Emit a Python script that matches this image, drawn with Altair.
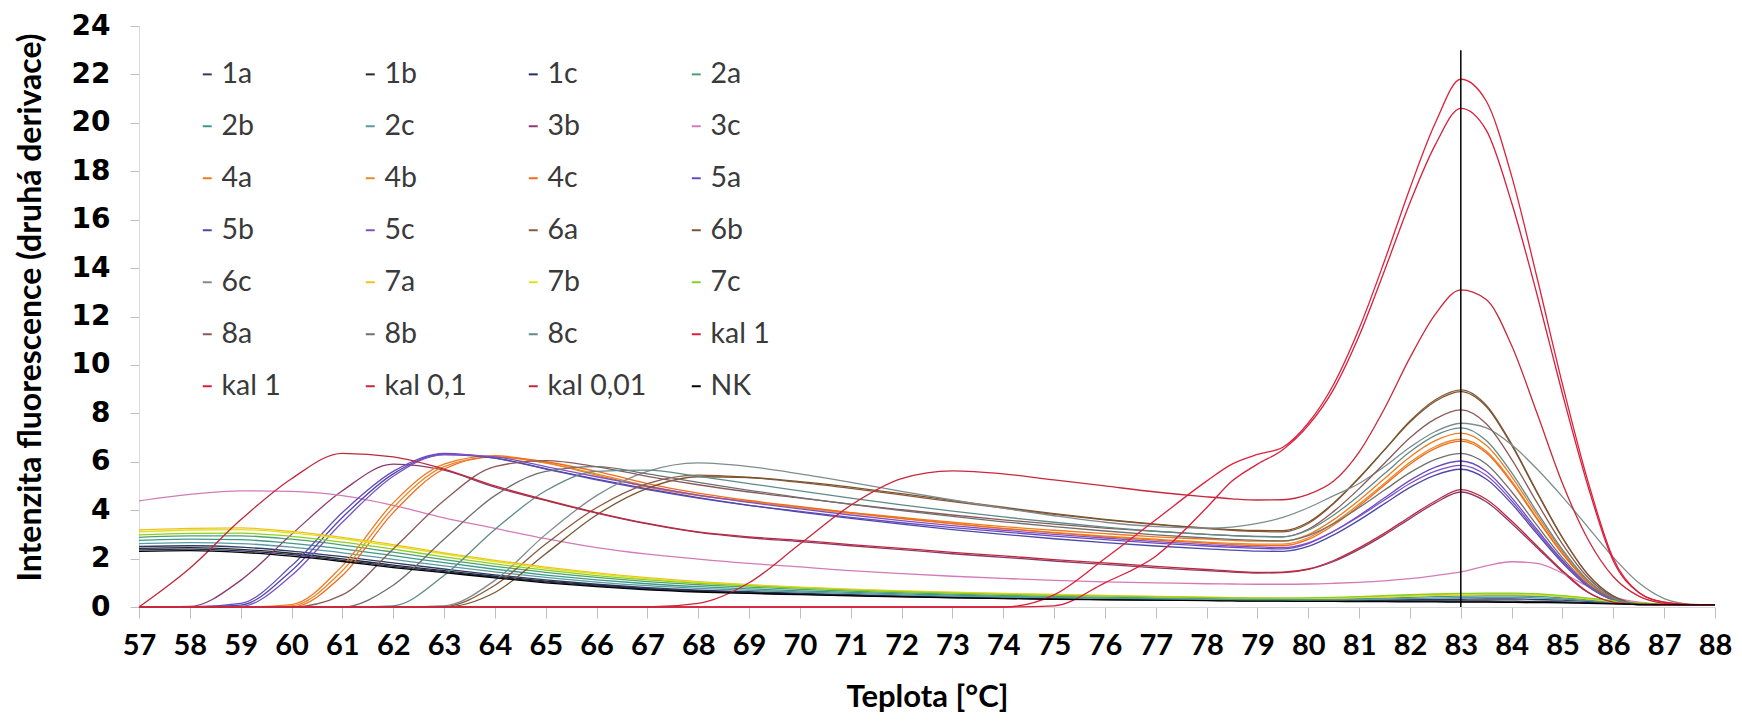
import altair as alt
import pandas as pd

# Temperature grid (°C): 1 °C steps up to 78, then 0.5 °C steps through the melt peak
TEMPS = [57, 58, 59, 60, 61, 62, 63, 64, 65, 66, 67, 68, 69, 70, 71, 72, 73, 74, 75, 76, 77, 78,
         78.5, 79, 79.5, 80, 80.5, 81, 81.5, 82, 82.5, 83, 83.5, 84, 84.5, 85, 85.5, 86, 86.5, 87, 87.5, 88]

# Second-derivative fluorescence per sample, one value per temperature above
s_1a = [2.5, 2.53, 2.47, 2.31, 2.08, 1.82, 1.57, 1.33, 1.12, 0.94, 0.8, 0.7, 0.63, 0.57, 0.51, 0.46, 0.42, 0.38, 0.35, 0.33, 0.31, 0.29,
        0.28, 0.27, 0.27, 0.27, 0.27, 0.28, 0.29, 0.3, 0.31, 0.32, 0.33, 0.33, 0.31, 0.28, 0.23, 0.17, 0.12, 0.1, 0.09, 0.09]
s_1b = [2.42, 2.45, 2.38, 2.22, 1.99, 1.73, 1.5, 1.27, 1.07, 0.9, 0.76, 0.66, 0.6, 0.54, 0.49, 0.44, 0.4, 0.37, 0.34, 0.32, 0.3, 0.28,
        0.27, 0.26, 0.26, 0.25, 0.25, 0.25, 0.25, 0.25, 0.25, 0.25, 0.25, 0.24, 0.23, 0.21, 0.18, 0.15, 0.12, 0.1, 0.09, 0.09]
s_1c = [2.36, 2.39, 2.32, 2.16, 1.93, 1.68, 1.46, 1.24, 1.04, 0.87, 0.74, 0.65, 0.58, 0.53, 0.48, 0.43, 0.39, 0.36, 0.33, 0.31, 0.29, 0.27,
        0.26, 0.25, 0.25, 0.24, 0.24, 0.24, 0.23, 0.23, 0.23, 0.22, 0.22, 0.21, 0.2, 0.19, 0.17, 0.14, 0.12, 0.1, 0.09, 0.09]
s_2a = [2.88, 2.94, 2.94, 2.8, 2.56, 2.27, 1.96, 1.68, 1.43, 1.22, 1.05, 0.92, 0.82, 0.73, 0.66, 0.59, 0.53, 0.48, 0.44, 0.41, 0.38, 0.36,
        0.35, 0.34, 0.34, 0.35, 0.37, 0.4, 0.44, 0.48, 0.51, 0.54, 0.55, 0.55, 0.52, 0.45, 0.35, 0.24, 0.16, 0.11, 0.1, 0.09]
s_2b = [2.75, 2.8, 2.78, 2.63, 2.4, 2.12, 1.83, 1.56, 1.32, 1.12, 0.96, 0.84, 0.75, 0.67, 0.6, 0.54, 0.49, 0.44, 0.4, 0.37, 0.34, 0.32,
        0.31, 0.3, 0.3, 0.31, 0.32, 0.34, 0.37, 0.4, 0.43, 0.45, 0.46, 0.46, 0.44, 0.38, 0.3, 0.21, 0.14, 0.1, 0.09, 0.09]
s_2c = [2.62, 2.66, 2.62, 2.47, 2.24, 1.97, 1.7, 1.45, 1.22, 1.03, 0.88, 0.77, 0.69, 0.62, 0.56, 0.5, 0.45, 0.41, 0.38, 0.35, 0.32, 0.3,
        0.29, 0.28, 0.28, 0.28, 0.29, 0.31, 0.33, 0.35, 0.37, 0.39, 0.4, 0.4, 0.38, 0.33, 0.26, 0.19, 0.13, 0.1, 0.09, 0.09]
s_3b = [0, 0.02, 1.1, 3.0, 4.8, 5.9, 5.65, 4.95, 4.4, 3.88, 3.43, 3.08, 2.86, 2.7, 2.53, 2.37, 2.2, 2.05, 1.9, 1.76, 1.62, 1.5,
        1.44, 1.4, 1.42, 1.55, 1.88, 2.38, 2.98, 3.65, 4.3, 4.75, 4.35, 3.45, 2.45, 1.45, 0.6, 0.2, 0.1, 0.08, 0.07, 0.07]
s_3c = [4.38, 4.65, 4.8, 4.78, 4.6, 4.2, 3.68, 3.25, 2.82, 2.45, 2.18, 1.98, 1.8, 1.66, 1.5, 1.38, 1.27, 1.18, 1.1, 1.04, 1.0, 0.96,
        0.95, 0.94, 0.94, 0.95, 0.98, 1.02, 1.08, 1.17, 1.3, 1.45, 1.7, 1.87, 1.8, 1.4, 0.85, 0.42, 0.2, 0.12, 0.1, 0.1]
s_4a = [0, 0, 0, 0.1, 1.7, 4.3, 5.9, 6.25, 5.95, 5.45, 4.95, 4.6, 4.35, 4.12, 3.9, 3.7, 3.5, 3.32, 3.17, 3.03, 2.9, 2.8,
        2.75, 2.72, 2.72, 2.99, 3.61, 4.41, 5.31, 6.2, 6.87, 7.18, 6.68, 5.39, 3.8, 2.3, 1.08, 0.36, 0.1, 0.08, 0.07, 0.07]
s_4b = [0, 0, 0, 0.05, 1.5, 4.1, 5.8, 6.2, 5.95, 5.5, 5.0, 4.62, 4.35, 4.1, 3.87, 3.65, 3.44, 3.25, 3.08, 2.93, 2.8, 2.68,
        2.63, 2.6, 2.6, 2.86, 3.47, 4.25, 5.11, 5.98, 6.63, 6.93, 6.44, 5.2, 3.67, 2.22, 1.04, 0.35, 0.1, 0.08, 0.07, 0.07]
s_4c = [0, 0, 0, 0, 1.3, 3.9, 5.7, 6.2, 6.0, 5.6, 5.1, 4.7, 4.4, 4.15, 3.9, 3.66, 3.44, 3.24, 3.06, 2.9, 2.76, 2.64,
        2.58, 2.54, 2.53, 2.79, 3.39, 4.17, 5.04, 5.9, 6.55, 6.85, 6.37, 5.14, 3.63, 2.19, 1.03, 0.34, 0.1, 0.08, 0.07, 0.07]
s_5a = [0, 0, 0.15, 1.7, 3.9, 5.6, 6.35, 6.15, 5.7, 5.25, 4.85, 4.5, 4.2, 3.95, 3.7, 3.48, 3.28, 3.1, 2.93, 2.78, 2.64, 2.52,
        2.46, 2.42, 2.4, 2.62, 3.13, 3.78, 4.51, 5.23, 5.78, 6.03, 5.61, 4.52, 3.2, 1.93, 0.9, 0.3, 0.1, 0.08, 0.07, 0.07]
s_5b = [0, 0, 0.08, 1.5, 3.7, 5.5, 6.3, 6.15, 5.72, 5.28, 4.88, 4.52, 4.2, 3.92, 3.66, 3.42, 3.2, 3.0, 2.82, 2.66, 2.52, 2.4,
        2.35, 2.31, 2.3, 2.5, 2.98, 3.59, 4.27, 4.94, 5.45, 5.69, 5.29, 4.27, 3.02, 1.82, 0.85, 0.28, 0.09, 0.08, 0.07, 0.07]
s_5c = [0, 0, 0.02, 1.3, 3.5, 5.4, 6.3, 6.2, 5.8, 5.38, 4.98, 4.62, 4.32, 4.05, 3.8, 3.57, 3.36, 3.17, 3.0, 2.85, 2.7, 2.58,
        2.52, 2.48, 2.45, 2.65, 3.13, 3.74, 4.42, 5.1, 5.61, 5.85, 5.44, 4.39, 3.1, 1.87, 0.88, 0.29, 0.09, 0.08, 0.07, 0.07]
s_6a = [0, 0, 0, 0, 0, 0, 0.02, 0.9, 2.6, 4.1, 5.1, 5.45, 5.35, 5.15, 4.9, 4.63, 4.35, 4.08, 3.83, 3.6, 3.4, 3.24,
        3.17, 3.12, 3.1, 3.45, 4.27, 5.33, 6.5, 7.68, 8.56, 8.97, 8.34, 6.73, 4.75, 2.87, 1.35, 0.45, 0.13, 0.08, 0.07, 0.07]
s_6b = [0, 0, 0, 0, 0, 0, 0, 0.6, 2.2, 3.8, 4.9, 5.38, 5.35, 5.18, 4.95, 4.68, 4.4, 4.12, 3.86, 3.62, 3.42, 3.26,
        3.2, 3.16, 3.15, 3.5, 4.3, 5.34, 6.49, 7.64, 8.5, 8.9, 8.28, 6.68, 4.72, 2.85, 1.34, 0.45, 0.13, 0.08, 0.07, 0.07]
s_6c = [0, 0, 0, 0, 0, 0, 0.05, 1.1, 3.0, 4.6, 5.6, 5.95, 5.8, 5.5, 5.15, 4.78, 4.42, 4.08, 3.77, 3.5, 3.32, 3.26,
        3.3, 3.45, 3.7, 4.1, 4.6, 5.1, 5.8, 6.6, 7.25, 7.59, 7.4, 6.7, 5.7, 4.55, 3.3, 2.05, 1.0, 0.35, 0.12, 0.08]
s_7a = [3.18, 3.25, 3.27, 3.12, 2.88, 2.58, 2.24, 1.93, 1.65, 1.41, 1.21, 1.05, 0.92, 0.82, 0.74, 0.67, 0.61, 0.56, 0.52, 0.48, 0.44, 0.41,
        0.39, 0.38, 0.37, 0.37, 0.38, 0.4, 0.42, 0.45, 0.48, 0.5, 0.52, 0.52, 0.5, 0.43, 0.33, 0.23, 0.15, 0.11, 0.1, 0.09]
s_7b = [3.1, 3.18, 3.2, 3.06, 2.82, 2.52, 2.19, 1.88, 1.6, 1.37, 1.17, 1.02, 0.9, 0.8, 0.72, 0.65, 0.59, 0.54, 0.5, 0.46, 0.43, 0.4,
        0.38, 0.37, 0.36, 0.36, 0.37, 0.39, 0.42, 0.45, 0.49, 0.52, 0.54, 0.54, 0.51, 0.44, 0.34, 0.24, 0.16, 0.11, 0.1, 0.09]
s_7c = [2.98, 3.04, 3.05, 2.92, 2.68, 2.39, 2.07, 1.78, 1.52, 1.3, 1.12, 0.98, 0.87, 0.78, 0.7, 0.63, 0.57, 0.52, 0.48, 0.45, 0.42, 0.39,
        0.38, 0.37, 0.37, 0.38, 0.4, 0.43, 0.47, 0.51, 0.54, 0.56, 0.57, 0.57, 0.54, 0.47, 0.37, 0.26, 0.17, 0.12, 0.1, 0.09]
s_8a = [0, 0, 0, 0, 0.5, 2.4, 4.4, 5.8, 6.05, 5.8, 5.4, 5.05, 4.75, 4.5, 4.25, 4.02, 3.8, 3.6, 3.42, 3.26, 3.12, 3.0,
        2.95, 2.92, 2.9, 3.21, 3.95, 4.89, 5.94, 6.99, 7.77, 8.14, 7.57, 6.1, 4.31, 2.6, 1.22, 0.41, 0.12, 0.08, 0.07, 0.07]
s_8b = [0, 0, 0, 0, 0, 0.9, 2.8, 4.6, 5.6, 5.8, 5.5, 5.15, 4.82, 4.52, 4.24, 3.98, 3.74, 3.52, 3.32, 3.14, 2.98, 2.85,
        2.79, 2.75, 2.73, 2.95, 3.45, 4.11, 4.83, 5.55, 6.1, 6.35, 5.91, 4.76, 3.37, 2.03, 0.95, 0.32, 0.1, 0.08, 0.07, 0.07]
s_8c = [0, 0, 0, 0, 0, 0.05, 1.3, 3.2, 4.8, 5.6, 5.65, 5.4, 5.1, 4.8, 4.5, 4.22, 3.96, 3.72, 3.5, 3.3, 3.13, 3.0,
        2.95, 2.91, 2.9, 3.17, 3.8, 4.61, 5.51, 6.41, 7.09, 7.4, 6.88, 5.55, 3.92, 2.37, 1.11, 0.37, 0.11, 0.08, 0.07, 0.07]
s_kal1_a = [0, 0, 0, 0, 0, 0, 0, 0, 0, 0, 0, 0, 0, 0, 0, 0, 0, 0, 0.5, 2.0, 3.6, 5.2,
            5.9, 6.3, 6.6, 7.6, 9.2, 11.5, 14.3, 17.3, 20.0, 21.8, 20.9, 17.8, 13.6, 9.2, 5.2, 2.0, 0.6, 0.2, 0.1, 0.08]
s_kal1_b = [0, 0, 0, 0, 0, 0, 0, 0, 0, 0, 0, 0, 0, 0, 0, 0, 0, 0, 0.05, 1.0, 2.1, 4.1,
            5.2, 5.9, 6.5, 7.5, 9.0, 11.2, 13.9, 16.7, 19.1, 20.6, 19.7, 16.7, 12.9, 8.8, 5.0, 1.9, 0.6, 0.2, 0.1, 0.08]
s_kal01 = [0, 0, 0, 0, 0, 0, 0, 0, 0, 0, 0, 0.15, 1.0, 2.6, 4.2, 5.3, 5.62, 5.5, 5.25, 5.0, 4.75, 4.55,
           4.47, 4.42, 4.43, 4.65, 5.2, 6.4, 8.2, 10.3, 12.1, 13.1, 12.7, 10.8, 8.0, 5.1, 2.8, 1.25, 0.45, 0.15, 0.08, 0.08]
s_kal001 = [0, 1.6, 3.6, 5.3, 6.35, 6.2, 5.7, 5.0, 4.42, 3.9, 3.45, 3.1, 2.9, 2.75, 2.58, 2.42, 2.26, 2.11, 1.96, 1.82, 1.68, 1.55,
            1.48, 1.43, 1.44, 1.57, 1.92, 2.44, 3.05, 3.73, 4.38, 4.85, 4.45, 3.55, 2.52, 1.5, 0.62, 0.2, 0.1, 0.08, 0.07, 0.07]
s_nk = [2.3, 2.33, 2.26, 2.1, 1.88, 1.63, 1.42, 1.2, 1.0, 0.84, 0.71, 0.62, 0.56, 0.51, 0.46, 0.42, 0.38, 0.35, 0.32, 0.3, 0.28, 0.26,
        0.25, 0.24, 0.24, 0.23, 0.23, 0.22, 0.22, 0.21, 0.21, 0.2, 0.2, 0.19, 0.18, 0.17, 0.15, 0.13, 0.11, 0.1, 0.09, 0.09]

# Series keys in legend order ("kal 1" is measured twice; the second key carries a suffix
# that the legend strips off again)
KEYS = ["1a", "1b", "1c", "2a", "2b", "2c", "3b", "3c", "4a", "4b", "4c", "5a", "5b", "5c",
        "6a", "6b", "6c", "7a", "7b", "7c", "8a", "8b", "8c", "kal 1", "kal 1 (2)", "kal 0,1", "kal 0,01", "NK"]
SERIES = [s_1a, s_1b, s_1c, s_2a, s_2b, s_2c, s_3b, s_3c, s_4a, s_4b, s_4c, s_5a, s_5b, s_5c,
          s_6a, s_6b, s_6c, s_7a, s_7b, s_7c, s_8a, s_8b, s_8c, s_kal1_a, s_kal1_b, s_kal01, s_kal001, s_nk]
COLORS = ["#2b3a67", "#262626", "#23305a", "#4fa070", "#3a9a8a", "#5a9aa0", "#8a3a70", "#d47ab8",
          "#f07a20", "#e8892c", "#f26a1b", "#6a4cc0", "#4a4aa8", "#8050c8",
          "#8b5a3c", "#7a5530", "#7f8c8d", "#f0c020", "#e0e020", "#8ad020",
          "#8a5a5a", "#6f6f6f", "#5f8a8a", "#e0203a", "#d81e3c", "#c8283a", "#c0283a", "#000000"]

# Reference line marking the melting temperature
MARK_T = [83]
MARK_TOP = [23]

rows = []
for key, vals in zip(KEYS, SERIES):
    for t, v in zip(TEMPS, vals):
        rows.append({"t": t, "v": v, "key": key})
df = pd.DataFrame(rows)
mark_df = pd.DataFrame({"t": MARK_T, "y0": [0], "y1": MARK_TOP})

lines = alt.Chart(df).mark_line(interpolate="monotone", strokeWidth=1.3).encode(
    x=alt.X("t:Q",
            scale=alt.Scale(domain=[57, 88], nice=False, zero=False),
            axis=alt.Axis(values=list(range(57, 89)), title="Teplota [°C]",
                          labelFont="Lato", labelFontWeight="bold", labelFontSize=29,
                          labelColor="#000000", labelPadding=13, labelOverlap=False, labelFlush=False,
                          tickSize=11, tickColor="#bfbfbf", domainColor="#d9d9d9",
                          titleFont="Lato", titleFontWeight="bold", titleFontSize=31,
                          titleColor="#000000", titlePadding=22, grid=False)),
    y=alt.Y("v:Q",
            scale=alt.Scale(domain=[0, 24], nice=False),
            axis=alt.Axis(values=list(range(0, 25, 2)), title="Intenzita fluorescence (druhá derivace)",
                          labelFont="DejaVu Sans", labelFontWeight="bold", labelFontSize=28,
                          labelColor="#000000", labelPadding=20,
                          tickSize=9, tickColor="#bfbfbf", domainColor="#d9d9d9",
                          titleFont="Lato", titleFontWeight="bold", titleFontSize=32,
                          titleColor="#000000", titlePadding=24, titleY=281, grid=False)),
    color=alt.Color("key:N",
                    scale=alt.Scale(domain=KEYS, range=COLORS),
                    sort=KEYS,
                    legend=alt.Legend(orient="none", legendX=54, legendY=34, columns=4,
                                      direction="horizontal",
                                      title=None, symbolType="stroke", symbolSize=80,
                                      symbolStrokeWidth=2, labelFont="Lato", labelFontSize=28.5,
                                      labelColor="#3a3a3a", labelOffset=0, labelLimit=300,
                                      rowPadding=23, columnPadding=35, gridAlign="all",
                                      labelExpr="replace(datum.label, ' (2)', '')")),
)

marker = alt.Chart(mark_df).mark_rule(color="#000000", strokeWidth=1.5).encode(
    x="t:Q", y="y0:Q", y2="y1:Q")

chart = alt.layer(lines, marker).properties(
    width=1576, height=581,
    padding={"left": 139, "top": 26, "right": 27, "bottom": 118},
    autosize=alt.AutoSizeParams(type="none"),
    background="white",
).configure_view(stroke=None)

chart.save("out.html", embed_options={"renderer": "svg", "actions": False})
